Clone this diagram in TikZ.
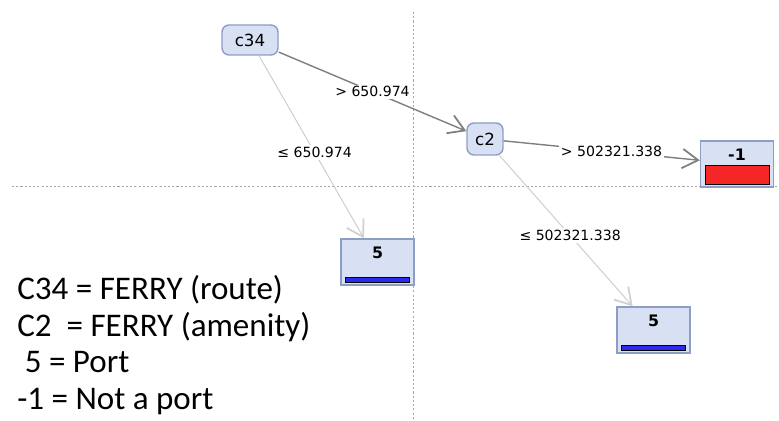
\documentclass[tikz,border=0pt]{standalone}
\usepackage{fontspec}
\usetikzlibrary{positioning,arrows.meta}
\newfontfamily\treefont{DejaVu Sans}
\newfontfamily\legendfont{Carlito}
\definecolor{nodefill}{HTML}{D8E0F3}
\definecolor{nodeline}{HTML}{8C9DC6}
\definecolor{darkedge}{HTML}{7F7F7F}
\definecolor{lightedge}{HTML}{D0D0D0}
\definecolor{barred}{HTML}{F42626}
\definecolor{barblue}{HTML}{2B2BF0}

\begin{document}
\begin{tikzpicture}[x=0.02cm, y=-0.02cm]
      \tikzstyle{split}=[rectangle, rounded corners=4pt, fill=nodefill, draw=nodeline, thick, font=\treefont\fontsize{9.5}{10}\selectfont, inner sep=0pt]
      \tikzstyle{leaf}=[rectangle, fill=nodefill, draw=nodeline, thick, minimum width=1.46cm, minimum height=0.92cm, inner sep=0pt]
      \tikzstyle{leaftxt}=[font=\treefont\bfseries\fontsize{9}{10}\selectfont, inner sep=0pt, node distance=0.16cm]
      \tikzstyle{bar}=[rectangle, draw=black, thin, minimum width=1.28cm, inner sep=0pt, node distance=0.05cm]
      \tikzstyle{connect}=[-{Straight Barb[length=9pt, width=11pt, line width=1pt]}, thick]
      \tikzstyle{lbl}=[fill=white, font=\treefont\fontsize{8}{9}\selectfont, inner sep=1pt, text=black]
      \tikzstyle{grid}=[gray!70, dash pattern=on 1.2pt off 1.2pt, very thin]
      \tikzstyle{legend}=[anchor=base west, inner sep=0pt, font=\legendfont\fontsize{18.8}{22}\selectfont]

      \useasboundingbox (0,0) rectangle (779,421);

      % dotted guides
      \draw[grid] (413,12) -- (413,421);
      \draw[grid] (12,186) -- (779,186);

      % tree
      \node[split, minimum width=1.12cm, minimum height=0.6cm] (c34) at (250,40) {c34};
      \node[split, minimum width=0.72cm, minimum height=0.64cm] (c2) at (485,139) {c2};

      \node[leaf] (neg) at (737,164) {};
      \node[leaftxt, below=of neg.north] (negtxt) {-1};
      \node[bar, fill=barred, minimum height=0.38cm, above=of neg.south] (negbar) {};

      \node[leaf] (portA) at (377.5,262) {};
      \node[leaftxt, below=of portA.north] (portAtxt) {5};
      \node[bar, fill=barblue, minimum height=0.1cm, above=of portA.south] (portAbar) {};

      \node[leaf] (portB) at (653.5,330) {};
      \node[leaftxt, below=of portB.north] (portBtxt) {5};
      \node[bar, fill=barblue, minimum height=0.1cm, above=of portB.south] (portBbar) {};

      \path (c34) edge [connect, darkedge] node[lbl, pos=0.5] {> 650.974} (c2);
      \path (c34) edge [connect, lightedge, semithick] node[lbl, pos=0.53] {≤ 650.974} (portA);
      \path (c2) edge [connect, darkedge] node[lbl, pos=0.55] {> 502321.338} (neg);
      \path (c2) edge [connect, lightedge, semithick] node[lbl, pos=0.53] {≤ 502321.338} (portB);

      % legend
      \node[legend] (legA) at (17,300) {C34 = FERRY (route)};
      \node[legend] (legB) at (17,337) {C2\ \ = FERRY (amenity)};
      \node[legend] (legC) at (17,373) {\ 5 = Port};
      \node[legend] (legD) at (17,410) {-1 = Not a port};
    \end{tikzpicture}
\end{document}
